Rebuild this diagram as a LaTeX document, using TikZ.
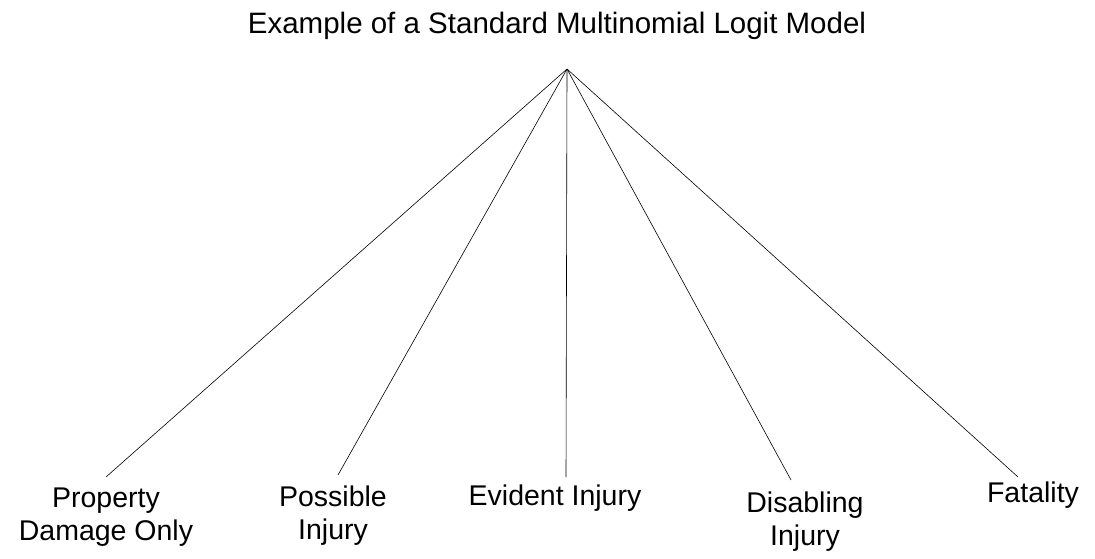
\documentclass[tikz,border=0pt]{standalone}
\usepackage{fontspec}
\setmainfont{Liberation Sans}

\begin{document}
\begin{tikzpicture}[x=1pt,y=-1pt,
    lbl/.style={align=center,font=\fontsize{28.5}{33}\selectfont,inner sep=0pt,anchor=base},
    ttl/.style={font=\fontsize{29.5}{34}\selectfont,inner sep=0pt,anchor=base},
    branch/.style={line width=0.6pt,black}]
  \useasboundingbox (0,0) rectangle (1095,558);
  \node[ttl] (title) at (557,33) {Example of a Standard Multinomial Logit Model};
  \coordinate (top) at (567,69);
  % end points of the branches
  \coordinate (e1) at (106,477); \coordinate (e2) at (338,475);
  \coordinate (e3) at (566,477); \coordinate (e4) at (791,480);
  \coordinate (e5) at (1018,477);
  % base anchor = baseline of the last line
  \node[lbl] (pdo) at (106,540) {Property\\Damage Only};
  \node[lbl] (pos) at (333,539) {Possible\\Injury};
  \node[lbl] (evi) at (555,505) {Evident Injury};
  \node[lbl] (dis) at (805,545) {Disabling\\Injury};
  \node[lbl] (fat) at (1033,502) {Fatality};
  \foreach \e in {e1,e2,e3,e4,e5}
    \draw[branch] (top) -- (\e);
\end{tikzpicture}
\end{document}
